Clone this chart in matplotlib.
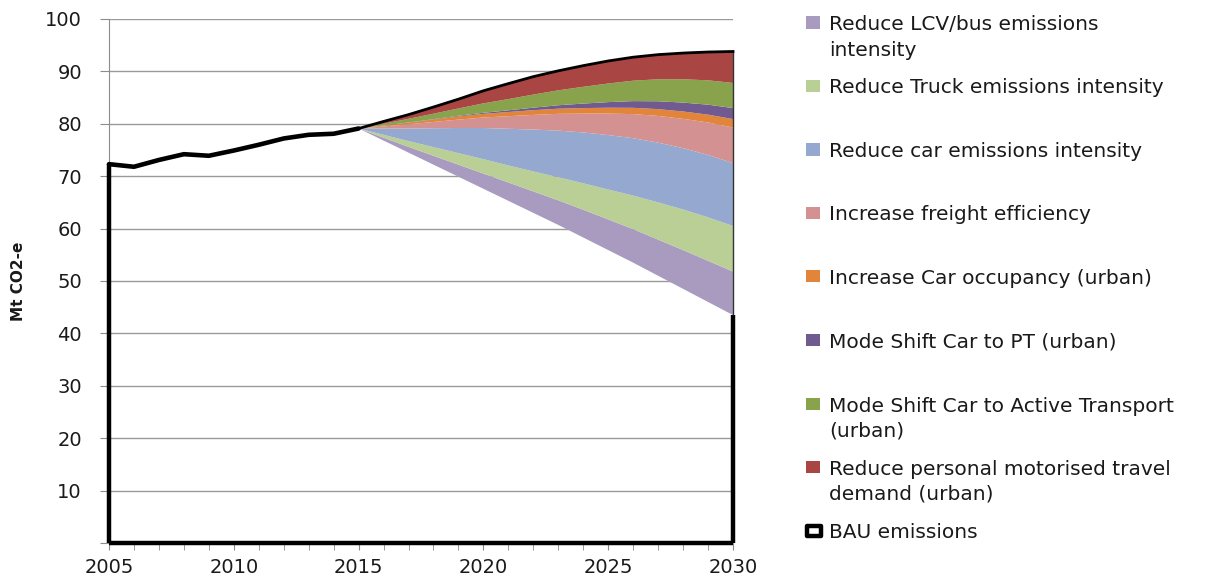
import matplotlib.pyplot as plt
from matplotlib.patches import Rectangle
from matplotlib.ticker import MultipleLocator, FuncFormatter

# historic BAU emissions (Mt CO2-e)
hist_years = list(range(2005, 2016))
hist_bau = [72.3, 71.8, 73.1, 74.2, 73.9, 74.9, 76.0, 77.2, 77.9, 78.1, 79.1]

# projection: emissions left after all measures + abatement wedges
proj_years = list(range(2015, 2031))
remaining = [79.1, 76.8, 74.5, 72.2, 69.9, 67.6, 65.3, 63.0, 60.7, 58.3, 55.9, 53.5, 51.0, 48.5, 46.0, 43.5]
lcv = [0, 0.55, 1.1, 1.7, 2.3, 2.9, 3.5, 4.1, 4.7, 5.3, 5.85, 6.4, 6.9, 7.4, 7.85, 8.3]
truck = [0, 0.55, 1.1, 1.65, 2.2, 2.75, 3.25, 3.8, 4.4, 5.05, 5.7, 6.4, 7.1, 7.75, 8.3, 8.7]
car = [0, 1.2, 2.4, 3.6, 4.8, 5.95, 7.0, 8.0, 8.9, 9.7, 10.4, 10.95, 11.4, 11.7, 11.9, 12.0]
freight = [0, 0.4, 0.8, 1.2, 1.6, 2.0, 2.4, 2.8, 3.2, 3.6, 4.1, 4.6, 5.1, 5.6, 6.2, 6.8]
occupancy = [0, 0.15, 0.3, 0.45, 0.6, 0.7, 0.8, 0.9, 0.98, 1.05, 1.12, 1.2, 1.3, 1.4, 1.5, 1.6]
pt = [0, 0.02, 0.05, 0.08, 0.13, 0.2, 0.32, 0.48, 0.66, 0.86, 1.07, 1.28, 1.5, 1.7, 1.9, 2.1]
active = [0, 0.35, 0.7, 1.05, 1.4, 1.8, 2.15, 2.5, 2.85, 3.2, 3.55, 3.9, 4.2, 4.45, 4.65, 4.8]
demand = [0, 0.43, 0.8, 1.27, 1.77, 2.4, 2.95, 3.42, 3.72, 4.04, 4.3, 4.48, 4.7, 5.0, 5.4, 6.0]

wedges = [lcv, truck, car, freight, occupancy, pt, active, demand]
labels = ["Reduce LCV/bus emissions\nintensity",
          "Reduce Truck emissions intensity",
          "Reduce car emissions intensity",
          "Increase freight efficiency",
          "Increase Car occupancy (urban)",
          "Mode Shift Car to PT (urban)",
          "Mode Shift Car to Active Transport\n(urban)",
          "Reduce personal motorised travel\ndemand (urban)",
          "BAU emissions"]
colors = ["#a99bbf", "#b9cf96", "#95a8cf", "#d39191", "#e2853a",
          "#715a8f", "#88a34b", "#a94543"]

total = [remaining[i] + sum(w[i] for w in wedges) for i in range(len(proj_years))]

plt.rcParams['font.family'] = 'DejaVu Sans'
txtc = "#1a1a1a"

fig = plt.figure(figsize=(12.16, 5.8), dpi=100)
ax = fig.add_axes([109/1216, 1 - 543/580, 624/1216, 524/580])

# the BAU part under the wedges is left unfilled so the gridlines show
ax.stackplot(proj_years, remaining, *wedges, colors=[(1, 1, 1, 0)] + colors,
             linewidth=0, zorder=3)

# BAU area outline
ax.hlines(0, hist_years[0], proj_years[-1], color="black", lw=3.2, zorder=5, clip_on=False)
ax.vlines(hist_years[0], 0, hist_bau[0], color="black", lw=3.2, zorder=5, clip_on=False)
ax.vlines(proj_years[-1], 0, remaining[-1], color="black", lw=3.2, zorder=5, clip_on=False)
ax.vlines(proj_years[-1], remaining[-1], total[-1], color="#333333", lw=1, zorder=5, clip_on=False)
ax.plot(hist_years, hist_bau, color="black", lw=3.3, zorder=6,
        solid_joinstyle="round", solid_capstyle="round", clip_on=False)
ax.plot(proj_years, total, color="black", lw=2.0, zorder=6, clip_on=False,
        solid_joinstyle="round")

ax.set_xlim(2005, 2030)
ax.set_ylim(0, 100)
ax.xaxis.set_major_locator(MultipleLocator(5))
ax.xaxis.set_minor_locator(MultipleLocator(1))
ax.yaxis.set_major_locator(MultipleLocator(10))
ax.yaxis.set_major_formatter(FuncFormatter(lambda v, p: "" if v == 0 else "%d" % v))
ax.grid(axis="y", color="#9a9a9a", lw=1, zorder=1)
ax.set_axisbelow(True)
for s in ["top", "right"]:
    ax.spines[s].set_visible(False)
for s in ["left", "bottom"]:
    ax.spines[s].set_color("#8c8c8c")
ax.tick_params(axis="both", which="both", direction="out", color="#8c8c8c", labelcolor=txtc)
ax.tick_params(axis="y", length=6.5, pad=13, labelsize=14)
ax.tick_params(axis="x", which="major", length=5, pad=6, labelsize=14)
ax.tick_params(axis="x", which="minor", length=5)
ax.set_ylabel("Mt CO2-e", fontsize=11, fontweight="bold", color=txtc)
ax.yaxis.set_label_coords(-0.133, 0.5)

# legend, entries evenly spaced like the Excel one
y0, step, gap = 22.5, 63.5, 26
for i, lab in enumerate(labels):
    yc = y0 + i * step
    if i < len(colors):
        fig.add_artist(Rectangle((806/1216, 1 - (yc + 6)/580), 14/1216, 12/580,
                                 transform=fig.transFigure, facecolor=colors[i],
                                 edgecolor="none"))
    else:
        fig.add_artist(Rectangle((807/1216, 1 - (yc + 5)/580), 14/1216, 10/580,
                                 transform=fig.transFigure, facecolor="white",
                                 edgecolor="black", lw=3.2, joinstyle="round"))
    nlines = lab.count("\n")
    fig.text(829/1216, 1 - (yc + 7 + nlines * gap)/580, lab, fontsize=14.5, color=txtc,
             va="baseline", ha="left", linespacing=1.4)

fig.savefig("out.png", dpi=100)
